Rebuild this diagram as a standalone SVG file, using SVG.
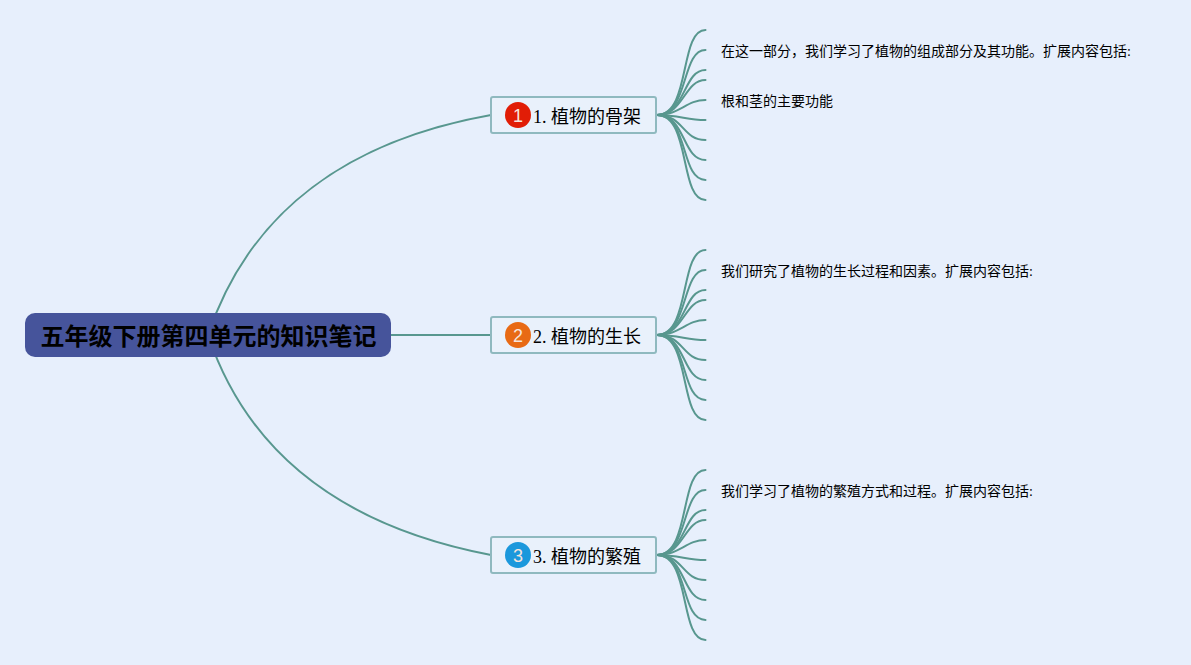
<svg xmlns="http://www.w3.org/2000/svg" width="1191" height="665" viewBox="0 0 1191 665">
<style>
text{font-family:"Liberation Serif","Noto Sans CJK SC",sans-serif;fill:#000}
.l{fill:none;stroke:#58978f;stroke-width:2;stroke-linecap:round}
.t{fill:#e9f1fb;stroke:#8fb9bf;stroke-width:2}
.tt{font-size:18px}
.lt{font-size:14px}
.n{font-family:"Liberation Sans",sans-serif;font-size:18px;fill:#f6e4dc;text-anchor:middle}
</style>
<defs>
<g id="fan">
<path class="l" d="M657 115C691 115 679 30 705.500 30"/>
<path class="l" d="M657 115C689 115 681 50 705.500 50"/>
<path class="l" d="M657 115C686 115 683 70 705.500 70"/>
<path class="l" d="M657 115C684 115 684 80 705.500 80"/>
<path class="l" d="M657 115C680 115 686 100 705.500 100"/>
<path class="l" d="M657 115C680 115 686 120 705.500 120"/>
<path class="l" d="M657 115C684 115 682 140 705.500 140"/>
<path class="l" d="M657 115C686 115 682 160 705.500 160"/>
<path class="l" d="M657 115C689 115 680 180 705.500 180"/>
<path class="l" d="M657 115C691 115 679 200 705.500 200"/>
</g>
</defs>
<rect width="1191" height="665" fill="#e7effc"/>
<g id="connectors">
<path class="l" d="M208 335C250 210 350 140 491 115"/>
<path class="l" d="M391 335H491"/>
<path class="l" d="M208 335C250 460 350 528 491 555"/>
<use href="#fan"/>
<use href="#fan" y="220"/>
<use href="#fan" y="440"/>
</g>
<g id="root">
<rect x="25" y="313" width="366" height="44" rx="10" fill="#46549b"/>
<text x="40.500" y="344.500" font-size="24" font-weight="bold">五年级下册第四单元的知识笔记</text>
</g>
<g id="topic1">
<rect class="t" x="491" y="97" width="165" height="36" rx="2"/>
<circle cx="518" cy="115" r="13" fill="#e11d06"/>
<text class="n" x="518" y="121.500">1</text>
<text class="tt" x="533" y="122.500">1. 植物的骨架</text>
</g>
<g id="topic2">
<rect class="t" x="491" y="317" width="165" height="36" rx="2"/>
<circle cx="518" cy="335" r="13" fill="#e86a14"/>
<text class="n" x="518" y="341.500">2</text>
<text class="tt" x="533" y="342.500">2. 植物的生长</text>
</g>
<g id="topic3">
<rect class="t" x="491" y="537" width="165" height="36" rx="2"/>
<circle cx="518" cy="555" r="13" fill="#1b98dc"/>
<text class="n" x="518" y="561.500">3</text>
<text class="tt" x="533" y="562.500">3. 植物的繁殖</text>
</g>
<g id="leaf1a"><text class="lt" x="721" y="56">在这一部分，我们学习了植物的组成部分及其功能。扩展内容包括:</text></g>
<g id="leaf1b"><text class="lt" x="721" y="106">根和茎的主要功能</text></g>
<g id="leaf2a"><text class="lt" x="721" y="276">我们研究了植物的生长过程和因素。扩展内容包括:</text></g>
<g id="leaf3a"><text class="lt" x="721" y="496">我们学习了植物的繁殖方式和过程。扩展内容包括:</text></g>
</svg>
